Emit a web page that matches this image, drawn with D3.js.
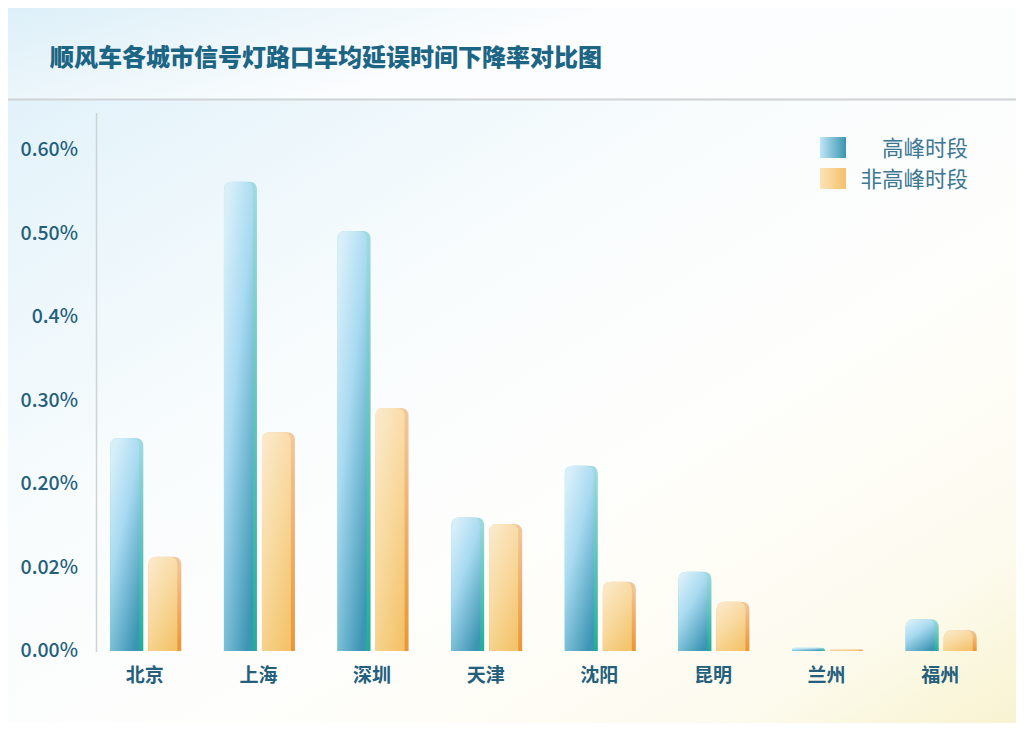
<!DOCTYPE html>
<html>
<head>
<meta charset="utf-8">
<script src="https://cdn.jsdelivr.net/npm/d3@7"></script>
<style>
  body { margin: 0; background: #fff; }
  svg { display: block; }
  text { font-family: "Noto Sans CJK SC", "Noto Sans", sans-serif; }
</style>
</head>
<body>
<div id="chart"></div>
<script>
// chart data
const cities = ["北京", "上海", "深圳", "天津", "沈阳", "昆明", "兰州", "福州"];
const peakValues = [0.255, 0.562, 0.503, 0.160, 0.222, 0.095, 0.004, 0.038];
const offPeakValues = [0.113, 0.262, 0.291, 0.152, 0.083, 0.059, 0.002, 0.025];
const yTickValues = [0, 0.1, 0.2, 0.3, 0.4, 0.5, 0.6];
const yTickLabels = ["0.00%", "0.02%", "0.20%", "0.30%", "0.4%", "0.50%", "0.60%"];
const seriesNames = ["高峰时段", "非高峰时段"];
const title = "顺风车各城市信号灯路口车均延误时间下降率对比图";

const svgWidth = 1024;
const svgHeight = 734;

const svg = d3.select("#chart")
  .append("svg")
  .attr("width", svgWidth)
  .attr("height", svgHeight);

const defs = svg.append("defs");

// background gradients
const headGrad = defs.append("linearGradient").attr("id", "headGrad")
  .attr("x1", "0").attr("y1", "0").attr("x2", "1").attr("y2", "0.3");
headGrad.append("stop").attr("offset", "0").attr("stop-color", "#dceff8");
headGrad.append("stop").attr("offset", "0.55").attr("stop-color", "#fbfdfe");
headGrad.append("stop").attr("offset", "1").attr("stop-color", "#fcfdfd");

const bodyGrad = defs.append("linearGradient").attr("id", "bodyGrad")
  .attr("x1", "0").attr("y1", "0").attr("x2", "1").attr("y2", "1");
bodyGrad.append("stop").attr("offset", "0").attr("stop-color", "#e2f2fa");
bodyGrad.append("stop").attr("offset", "0.35").attr("stop-color", "#f8fcfd");
bodyGrad.append("stop").attr("offset", "0.6").attr("stop-color", "#fefefc");
bodyGrad.append("stop").attr("offset", "0.85").attr("stop-color", "#fdfbef");
bodyGrad.append("stop").attr("offset", "1").attr("stop-color", "#f8f3d0");

// bar gradients
function barGradient(id, stops) {
  const g = defs.append("linearGradient").attr("id", id)
    .attr("x1", "0.2").attr("y1", "0").attr("x2", "0.8").attr("y2", "1");
  stops.forEach(s => g.append("stop").attr("offset", s[0]).attr("stop-color", s[1]));
}
barGradient("blueGrad", [[0, "#d8eff9"], [0.4, "#a8daf1"], [1, "#3c95b3"]]);
barGradient("orangeGrad", [[0, "#fbe8c8"], [0.5, "#f8d89c"], [1, "#f3c46c"]]);

function edgeGradient(id, top, bottom) {
  const g = defs.append("linearGradient").attr("id", id)
    .attr("x1", "0").attr("y1", "0").attr("x2", "0").attr("y2", "1");
  g.append("stop").attr("offset", "0").attr("stop-color", top);
  g.append("stop").attr("offset", "1").attr("stop-color", bottom);
}
edgeGradient("blueEdge", "#9fdbe0", "#1fae9a");
edgeGradient("orangeEdge", "#f3c89c", "#ec9534");

const legBlue = defs.append("linearGradient").attr("id", "legBlue");
legBlue.append("stop").attr("offset", "0").attr("stop-color", "#bfe6f6");
legBlue.append("stop").attr("offset", "1").attr("stop-color", "#3b95b2");
const legOrange = defs.append("linearGradient").attr("id", "legOrange");
legOrange.append("stop").attr("offset", "0").attr("stop-color", "#fbe3b8");
legOrange.append("stop").attr("offset", "1").attr("stop-color", "#f4c16a");

// card
svg.append("rect").attr("x", 8).attr("y", 8).attr("width", 1008).attr("height", 91)
  .attr("fill", "url(#headGrad)");
svg.append("rect").attr("x", 8).attr("y", 100).attr("width", 1008).attr("height", 623)
  .attr("fill", "url(#bodyGrad)");
svg.append("line").attr("x1", 8).attr("x2", 1016).attr("y1", 99.5).attr("y2", 99.5)
  .attr("stroke", "#cfd3d6").attr("stroke-width", 2);

svg.append("text")
  .attr("x", 50).attr("y", 66)
  .attr("font-size", 24)
  .attr("font-weight", 900)
  .attr("fill", "#1d6584")
  .text(title);

// scales
const xScale = d3.scaleBand()
  .domain(cities)
  .range([88, 997]);

const yScale = d3.scaleLinear()
  .domain([0, 0.6])
  .range([651, 150]);

const barW = 33;
const barGap = 5;

// y axis
svg.append("line")
  .attr("x1", 96.5).attr("x2", 96.5).attr("y1", 113).attr("y2", 652)
  .attr("stroke", "#cdd2d5").attr("stroke-width", 1.5);

const yAxis = d3.axisLeft(yScale)
  .tickValues(yTickValues)
  .tickFormat((d, i) => yTickLabels[i])
  .tickSize(0)
  .tickPadding(0);

const yAxisG = svg.append("g")
  .attr("transform", "translate(78, 0)")
  .call(yAxis);
yAxisG.select(".domain").remove();
yAxisG.selectAll("text")
  .attr("font-size", 19.5)
  .attr("font-weight", 500)
  .attr("font-family", "'Noto Sans', sans-serif")
  .attr("fill", "#24607c")
  .attr("dy", "0.3em");

// x axis labels
const xAxis = d3.axisBottom(xScale).tickSize(0).tickPadding(0);
const xAxisG = svg.append("g")
  .attr("transform", "translate(0, 668)")
  .call(xAxis);
xAxisG.select(".domain").remove();
xAxisG.selectAll("text")
  .attr("font-size", 19)
  .attr("font-weight", 700)
  .attr("fill", "#24607c")
  .attr("font-family", "'Noto Sans CJK SC', sans-serif");

// bar path with rounded top corners
function barPath(x, y, w, h, r) {
  r = Math.min(r, h, w / 2);
  return `M${x},${y + h}V${y + r}Q${x},${y} ${x + r},${y}H${x + w - r}Q${x + w},${y} ${x + w},${y + r}V${y + h}Z`;
}

const groups = svg.append("g").selectAll("g")
  .data(cities)
  .join("g")
  .attr("transform", d => `translate(${xScale(d) + xScale.bandwidth() / 2}, 0)`);

const series = [
  { values: peakValues, fill: "url(#blueGrad)", edge: "url(#blueEdge)", dx: -barW - barGap / 2 + 1 },
  { values: offPeakValues, fill: "url(#orangeGrad)", edge: "url(#orangeEdge)", dx: barGap / 2 + 1 }
];

series.forEach(s => {
  groups.append("path")
    .attr("d", (d, i) => {
      const y = yScale(s.values[i]);
      return barPath(s.dx, y, barW, yScale(0) - y, 8);
    })
    .attr("fill", s.edge);
  groups.append("path")
    .attr("d", (d, i) => {
      const y = yScale(s.values[i]);
      return barPath(s.dx, y, barW - 4, yScale(0) - y, 8);
    })
    .attr("fill", s.fill);
});

// legend
const legend = svg.append("g");
const legendFills = ["url(#legBlue)", "url(#legOrange)"];
seriesNames.forEach((name, i) => {
  legend.append("rect")
    .attr("x", 820).attr("y", 137 + i * 31)
    .attr("width", 26).attr("height", 21)
    .attr("fill", legendFills[i]);
  legend.append("text")
    .attr("x", 968).attr("y", 148 + i * 31)
    .attr("dy", "0.35em")
    .attr("text-anchor", "end")
    .attr("font-size", 21.5)
    .attr("fill", "#3c7794")
    .text(name);
});
</script>
</body>
</html>
